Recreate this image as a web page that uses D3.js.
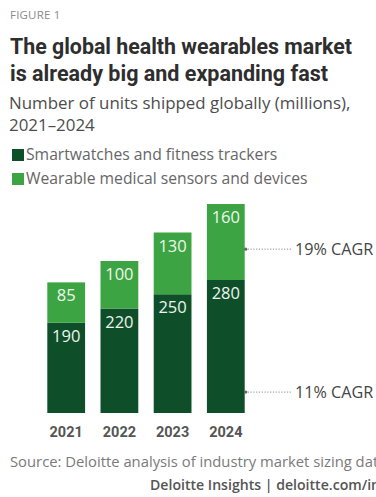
<!DOCTYPE html>
<html>
<head>
<meta charset="utf-8">
<script src="https://cdn.jsdelivr.net/npm/d3@7"></script>
<style>
  html, body { margin: 0; padding: 0; background: #fff; overflow: hidden; }
  svg { display: block; font-family: "Open Sans", "Noto Sans", sans-serif; }
</style>
</head>
<body>
<svg id="chart" width="376" height="497"></svg>
<script>
// Units shipped globally (millions)
const years = ["2021", "2022", "2023", "2024"];
const smartwatches = [190, 220, 250, 280];
const medicalSensors = [85, 100, 130, 160];
const seriesNames = ["Smartwatches and fitness trackers", "Wearable medical sensors and devices"];
const cagrLabels = ["19% CAGR", "11% CAGR"];

const colors = { dark: "#0e4f2a", light: "#3ca443" };

const svg = d3.select("#chart");

// Header texts
svg.append("text").attr("x", 10).attr("y", 19)
  .attr("fill", "#8a8a8a").attr("font-size", 11.5).attr("letter-spacing", 0.2)
  .text("FIGURE 1");

const titleLines = ["The global health wearables market", "is already big and expanding fast"];
const titleWidths = [342, 318];
titleLines.forEach((t, i) => {
  svg.append("text").attr("x", 10).attr("y", 54 + i * 27)
    .attr("fill", "#2e2e2e").attr("font-size", 22).attr("font-weight", 700)
    .attr("font-family", "Roboto, 'Open Sans', sans-serif")
    .attr("textLength", titleWidths[i]).attr("lengthAdjust", "spacingAndGlyphs")
    .text(t);
});

["Number of units shipped globally (millions),", "2021–2024"].forEach((t, i) => {
  svg.append("text").attr("x", 9).attr("y", 109 + i * 22)
    .attr("fill", "#4d4d4d").attr("font-size", 16.9)
    .text(t);
});

// Legend
const legend = svg.append("g");
[colors.dark, colors.light].forEach((c, i) => {
  legend.append("rect").attr("x", 12).attr("y", 149 + i * 24).attr("width", 12).attr("height", 12).attr("fill", c);
  legend.append("text").attr("x", 26).attr("y", 160 + i * 24)
    .attr("fill", "#666").attr("font-size", 15.7)
    .text(seriesNames[i]);
});

// Scales
const x = d3.scaleBand().domain(years).range([34, 258]).paddingInner(0.29).paddingOuter(0.25);
const y = d3.scaleLinear().domain([0, 440]).range([413, 204]);

const data = years.map((yr, i) => ({ year: yr, a: smartwatches[i], b: medicalSensors[i] }));

const bars = svg.append("g");
data.forEach(d => {
  // Bottom segment: smartwatches
  bars.append("rect")
    .attr("x", x(d.year)).attr("width", x.bandwidth())
    .attr("y", y(d.a)).attr("height", y(0) - y(d.a))
    .attr("fill", colors.dark);
  // Top segment: medical sensors
  bars.append("rect")
    .attr("x", x(d.year)).attr("width", x.bandwidth())
    .attr("y", y(d.a + d.b)).attr("height", y(d.a) - y(d.a + d.b))
    .attr("fill", colors.light);
  // Value labels at the top of each segment
  bars.append("text")
    .attr("x", x(d.year) + x.bandwidth() / 2).attr("y", y(d.a) + 19)
    .attr("text-anchor", "middle").attr("fill", "#eef5ee").attr("font-size", 16.5)
    .text(d.a);
  bars.append("text")
    .attr("x", x(d.year) + x.bandwidth() / 2).attr("y", y(d.a + d.b) + 19)
    .attr("text-anchor", "middle").attr("fill", "#eef8ec").attr("font-size", 16.5)
    .text(d.b);
});

// Category axis
const xAxis = svg.append("g").attr("transform", "translate(0,423)")
  .call(d3.axisBottom(x).tickSize(0).tickPadding(0));
xAxis.select(".domain").remove();
xAxis.selectAll("text")
  .attr("dy", 0).attr("y", 14)
  .attr("fill", "#555").attr("font-size", 14.5).attr("font-weight", 700)
  .attr("font-family", "Roboto, 'Open Sans', sans-serif");

// CAGR annotations, anchored to the 2024 bar
const last = years[years.length - 1];
const ax = x(last) + x.bandwidth();
const cagrAt = [345, 44]; // vertical anchor in units
cagrAt.forEach((v, i) => {
  const yy = y(v);
  svg.append("circle").attr("cx", ax + 1).attr("cy", yy).attr("r", 1.6).attr("fill", "#666");
  svg.append("line").attr("x1", ax + 3).attr("x2", 292).attr("y1", yy).attr("y2", yy)
    .attr("stroke", "#888").attr("stroke-width", 1).attr("stroke-dasharray", "1.2,1.6");
  svg.append("text").attr("x", 295).attr("y", yy + 5.5)
    .attr("fill", "#444").attr("font-size", 16.2)
    .text(cagrLabels[i]);
});

// Footer
svg.append("text").attr("x", 10).attr("y", 467)
  .attr("fill", "#7a7a7a").attr("font-size", 14.8)
  .text("Source: Deloitte analysis of industry market sizing data.");
svg.append("text").attr("x", 150).attr("y", 490)
  .attr("fill", "#555").attr("font-size", 14.1).attr("font-weight", 600)
  .text("Deloitte Insights | deloitte.com/insights");
</script>
</body>
</html>
